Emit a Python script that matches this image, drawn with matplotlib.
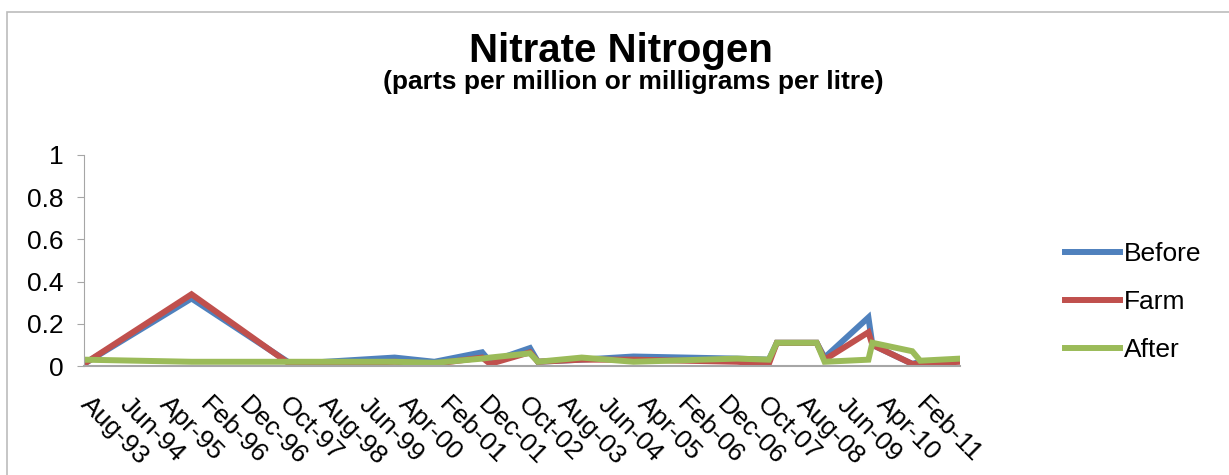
import numpy as np
import pandas as pd
import matplotlib
matplotlib.use("Agg")
import matplotlib.pyplot as plt
from matplotlib.patches import Rectangle

plt.rcParams['font.family'] = ['Liberation Sans', 'DejaVu Sans']

# sample dates and readings (ppm)
dates = ['1993-08', '1995-11', '1997-12', '2000-02', '2000-12', '2001-12',
         '2002-02', '2002-12', '2003-02', '2004-01', '2005-02', '2007-04',
         '2007-12', '2008-02', '2008-12', '2009-02', '2010-01', '2010-02',
         '2010-12', '2011-02', '2011-12']
before = [0.01, 0.32, 0.01, 0.04, 0.02, 0.065, 0.02, 0.085, 0.02, 0.03, 0.045,
          0.035, 0.03, 0.11, 0.11, 0.04, 0.23, 0.10, 0.01, 0.02, 0.025]
farm = [0.01, 0.34, 0.005, 0.02, 0.01, 0.04, 0.01, 0.065, 0.02, 0.03, 0.03,
        0.02, 0.01, 0.11, 0.11, 0.03, 0.16, 0.10, 0.01, 0.01, 0.02]
after = [0.03, 0.02, 0.02, 0.02, 0.015, 0.035, 0.04, 0.06, 0.02, 0.04, 0.02,
         0.035, 0.03, 0.11, 0.11, 0.02, 0.03, 0.11, 0.07, 0.025, 0.035]

tick_labels = ['Aug-93', 'Jun-94', 'Apr-95', 'Feb-96', 'Dec-96', 'Oct-97',
               'Aug-98', 'Jun-99', 'Apr-00', 'Feb-01', 'Dec-01', 'Oct-02',
               'Aug-03', 'Jun-04', 'Apr-05', 'Feb-06', 'Dec-06', 'Oct-07',
               'Aug-08', 'Jun-09', 'Apr-10', 'Feb-11']

# months since Aug-93
d = pd.to_datetime(dates)
x = (d.year - 1993) * 12 + (d.month - 8)
tick_pos = np.arange(len(tick_labels)) * 10

fig = plt.figure(figsize=(12.29, 4.75), dpi=100)
fig.patches.append(Rectangle((7/1229, -0.1), 1.2, 1.1 - 12/475,
                             transform=fig.transFigure, fill=False,
                             edgecolor='#bcbcbc', linewidth=1.2))

ax = fig.add_axes([84/1229, 1 - 366/475, (960 - 84)/1229, (366 - 155)/475])

ax.plot(x, before, color='#4F81BD', lw=4.3, label='Before', solid_joinstyle='miter')
ax.plot(x, farm, color='#C0504D', lw=4.3, label='Farm', solid_joinstyle='miter')
ax.plot(x, after, color='#9BBB59', lw=4.3, label='After', solid_joinstyle='miter')

ax.set_xlim(0, 220)
ax.set_ylim(0, 1)
ax.set_yticks([0, 0.2, 0.4, 0.6, 0.8, 1])
ax.set_yticklabels(['0', '0.2', '0.4', '0.6', '0.8', '1'])
ax.set_xticks(tick_pos)
ax.set_xticklabels(tick_labels, rotation=-45, ha='left', va='center',
                   rotation_mode='anchor')

for s in ['top', 'right']:
    ax.spines[s].set_visible(False)
ax.spines['left'].set_color('#a6a6a6')
ax.spines['bottom'].set_color('#a6a6a6')
ax.spines['bottom'].set_linewidth(1.5)
ax.tick_params(axis='y', labelsize=19, length=5, color='#a6a6a6', pad=10)
ax.tick_params(axis='x', labelsize=19, length=0, pad=25)

fig.text(0.505, 0.892, 'Nitrate Nitrogen', ha='center', va='center',
         fontsize=29, fontweight='bold')
fig.text(0.515, 0.828, '(parts per million or milligrams per litre)',
         ha='center', va='center', fontsize=19, fontweight='bold')

ax.legend(loc='center left', bbox_to_anchor=(1065/1229, 1 - 302/475),
          bbox_transform=fig.transFigure, frameon=False, fontsize=19,
          handlelength=2.1, labelspacing=0.9, handletextpad=0.15,
          borderpad=0, borderaxespad=0)

fig.savefig('out.png', dpi=100)
